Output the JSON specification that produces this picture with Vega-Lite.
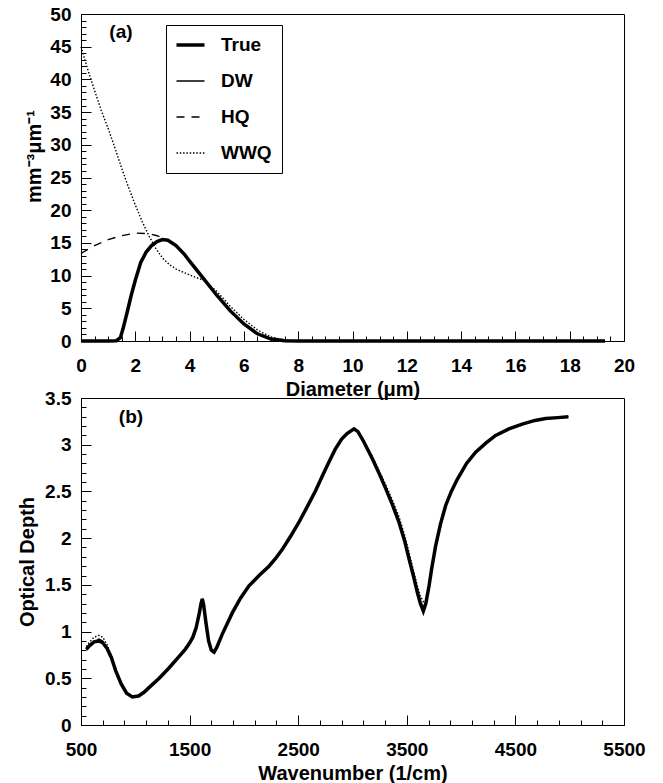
{
  "$schema": "https://vega.github.io/schema/vega-lite/v6.json",
  "padding": {"left": 17, "top": 4, "right": 5, "bottom": 5},
  "spacing": 57,
  "bounds": "flush",
  "datasets": {
    "a": [
      {"s":"True","x":0,"y":0},{"s":"True","x":1,"y":0},{"s":"True","x":1.3,"y":0.05},{"s":"True","x":1.45,"y":0.5},{"s":"True","x":1.55,"y":1.9},{"s":"True","x":1.7,"y":4.4},{"s":"True","x":1.85,"y":7.0},{"s":"True","x":2.0,"y":9.3},{"s":"True","x":2.2,"y":12.0},{"s":"True","x":2.4,"y":13.6},{"s":"True","x":2.6,"y":14.6},{"s":"True","x":2.8,"y":15.2},{"s":"True","x":3.0,"y":15.5},{"s":"True","x":3.2,"y":15.4},{"s":"True","x":3.5,"y":14.6},{"s":"True","x":3.8,"y":13.3},{"s":"True","x":4.0,"y":12.2},{"s":"True","x":4.5,"y":9.6},{"s":"True","x":5.0,"y":7.0},{"s":"True","x":5.5,"y":4.6},{"s":"True","x":6.0,"y":2.6},{"s":"True","x":6.5,"y":1.1},{"s":"True","x":7.0,"y":0.3},{"s":"True","x":7.5,"y":0.05},{"s":"True","x":8,"y":0},{"s":"True","x":19.3,"y":0},
      {"s":"DW","x":0,"y":0},{"s":"DW","x":1,"y":0},{"s":"DW","x":1.3,"y":0.05},{"s":"DW","x":1.45,"y":0.5},{"s":"DW","x":1.55,"y":1.9},{"s":"DW","x":1.7,"y":4.4},{"s":"DW","x":1.85,"y":7.0},{"s":"DW","x":2.0,"y":9.3},{"s":"DW","x":2.2,"y":12.0},{"s":"DW","x":2.4,"y":13.6},{"s":"DW","x":2.6,"y":14.6},{"s":"DW","x":2.8,"y":15.2},{"s":"DW","x":3.0,"y":15.5},{"s":"DW","x":3.2,"y":15.4},{"s":"DW","x":3.5,"y":14.6},{"s":"DW","x":3.8,"y":13.3},{"s":"DW","x":4.0,"y":12.2},{"s":"DW","x":4.5,"y":9.6},{"s":"DW","x":5.0,"y":7.0},{"s":"DW","x":5.5,"y":4.6},{"s":"DW","x":6.0,"y":2.6},{"s":"DW","x":6.5,"y":1.1},{"s":"DW","x":7.0,"y":0.3},{"s":"DW","x":7.5,"y":0.05},{"s":"DW","x":8,"y":0},{"s":"DW","x":19.3,"y":0},
      {"s":"HQ","x":0,"y":13.4},{"s":"HQ","x":0.5,"y":14.6},{"s":"HQ","x":1,"y":15.5},{"s":"HQ","x":1.5,"y":16.1},{"s":"HQ","x":2,"y":16.5},{"s":"HQ","x":2.5,"y":16.4},{"s":"HQ","x":2.8,"y":16.1},{"s":"HQ","x":3.1,"y":15.6},{"s":"HQ","x":3.3,"y":15.2},{"s":"HQ","x":3.5,"y":14.6},{"s":"HQ","x":4.0,"y":12.2},{"s":"HQ","x":4.5,"y":9.6},{"s":"HQ","x":5.0,"y":7.0},{"s":"HQ","x":5.5,"y":4.6},{"s":"HQ","x":6.0,"y":2.6},{"s":"HQ","x":6.5,"y":1.1},{"s":"HQ","x":7.0,"y":0.3},{"s":"HQ","x":7.5,"y":0.05},{"s":"HQ","x":8,"y":0},{"s":"HQ","x":19.3,"y":0},
      {"s":"WWQ","x":0,"y":45},{"s":"WWQ","x":0.25,"y":41.5},{"s":"WWQ","x":0.5,"y":38.3},{"s":"WWQ","x":0.75,"y":35.2},{"s":"WWQ","x":1,"y":32.5},{"s":"WWQ","x":1.25,"y":29.5},{"s":"WWQ","x":1.5,"y":26.4},{"s":"WWQ","x":1.75,"y":23.5},{"s":"WWQ","x":2,"y":20.8},{"s":"WWQ","x":2.25,"y":18.3},{"s":"WWQ","x":2.5,"y":16.1},{"s":"WWQ","x":2.75,"y":14.2},{"s":"WWQ","x":3,"y":12.7},{"s":"WWQ","x":3.25,"y":11.7},{"s":"WWQ","x":3.5,"y":11.0},{"s":"WWQ","x":4,"y":10.1},{"s":"WWQ","x":4.5,"y":9.3},{"s":"WWQ","x":5,"y":7.6},{"s":"WWQ","x":5.5,"y":5.3},{"s":"WWQ","x":6,"y":3.3},{"s":"WWQ","x":6.5,"y":1.7},{"s":"WWQ","x":7,"y":0.6},{"s":"WWQ","x":7.5,"y":0.15},{"s":"WWQ","x":8,"y":0},{"s":"WWQ","x":19.3,"y":0}
    ],
    "b": [
      {"s":"True","x":549,"y":0.81},{"s":"True","x":580,"y":0.85},{"s":"True","x":620,"y":0.89},{"s":"True","x":666,"y":0.9},{"s":"True","x":700,"y":0.88},{"s":"True","x":740,"y":0.82},{"s":"True","x":780,"y":0.72},{"s":"True","x":820,"y":0.58},{"s":"True","x":870,"y":0.44},{"s":"True","x":920,"y":0.34},{"s":"True","x":973,"y":0.3},{"s":"True","x":1030,"y":0.31},{"s":"True","x":1080,"y":0.35},{"s":"True","x":1126,"y":0.4},{"s":"True","x":1220,"y":0.5},{"s":"True","x":1310,"y":0.61},{"s":"True","x":1400,"y":0.73},{"s":"True","x":1460,"y":0.81},{"s":"True","x":1501,"y":0.88},{"s":"True","x":1530,"y":0.94},{"s":"True","x":1560,"y":1.04},{"s":"True","x":1590,"y":1.2},{"s":"True","x":1605,"y":1.3},{"s":"True","x":1617,"y":1.35},{"s":"True","x":1630,"y":1.28},{"s":"True","x":1650,"y":1.1},{"s":"True","x":1675,"y":0.9},{"s":"True","x":1700,"y":0.8},{"s":"True","x":1725,"y":0.78},{"s":"True","x":1750,"y":0.83},{"s":"True","x":1800,"y":0.97},{"s":"True","x":1893,"y":1.2},{"s":"True","x":1970,"y":1.36},{"s":"True","x":2047,"y":1.49},{"s":"True","x":2140,"y":1.6},{"s":"True","x":2231,"y":1.7},{"s":"True","x":2290,"y":1.78},{"s":"True","x":2354,"y":1.88},{"s":"True","x":2430,"y":2.02},{"s":"True","x":2507,"y":2.17},{"s":"True","x":2580,"y":2.33},{"s":"True","x":2661,"y":2.51},{"s":"True","x":2720,"y":2.66},{"s":"True","x":2781,"y":2.81},{"s":"True","x":2840,"y":2.95},{"s":"True","x":2900,"y":3.06},{"s":"True","x":2950,"y":3.12},{"s":"True","x":3014,"y":3.17},{"s":"True","x":3050,"y":3.14},{"s":"True","x":3100,"y":3.04},{"s":"True","x":3183,"y":2.85},{"s":"True","x":3250,"y":2.68},{"s":"True","x":3306,"y":2.53},{"s":"True","x":3370,"y":2.35},{"s":"True","x":3428,"y":2.17},{"s":"True","x":3480,"y":1.97},{"s":"True","x":3520,"y":1.78},{"s":"True","x":3560,"y":1.6},{"s":"True","x":3597,"y":1.42},{"s":"True","x":3625,"y":1.3},{"s":"True","x":3652,"y":1.22},{"s":"True","x":3675,"y":1.3},{"s":"True","x":3705,"y":1.49},{"s":"True","x":3730,"y":1.68},{"s":"True","x":3766,"y":1.92},{"s":"True","x":3810,"y":2.15},{"s":"True","x":3858,"y":2.35},{"s":"True","x":3910,"y":2.5},{"s":"True","x":3965,"y":2.63},{"s":"True","x":4050,"y":2.8},{"s":"True","x":4134,"y":2.92},{"s":"True","x":4230,"y":3.02},{"s":"True","x":4318,"y":3.1},{"s":"True","x":4440,"y":3.17},{"s":"True","x":4563,"y":3.22},{"s":"True","x":4680,"y":3.26},{"s":"True","x":4779,"y":3.28},{"s":"True","x":4890,"y":3.29},{"s":"True","x":4988,"y":3.3},
      {"s":"HQ","x":549,"y":0.81},{"s":"HQ","x":580,"y":0.86},{"s":"HQ","x":620,"y":0.9},{"s":"HQ","x":666,"y":0.92},{"s":"HQ","x":700,"y":0.9},{"s":"HQ","x":740,"y":0.83},{"s":"HQ","x":780,"y":0.72},{"s":"HQ","x":820,"y":0.58},{"s":"HQ","x":870,"y":0.44},{"s":"HQ","x":920,"y":0.34},{"s":"HQ","x":973,"y":0.3},{"s":"HQ","x":1030,"y":0.31},{"s":"HQ","x":1080,"y":0.35},{"s":"HQ","x":1126,"y":0.4},{"s":"HQ","x":1220,"y":0.5},{"s":"HQ","x":1310,"y":0.61},{"s":"HQ","x":1400,"y":0.73},{"s":"HQ","x":1460,"y":0.81},{"s":"HQ","x":1501,"y":0.88},{"s":"HQ","x":1530,"y":0.94},{"s":"HQ","x":1560,"y":1.04},{"s":"HQ","x":1590,"y":1.2},{"s":"HQ","x":1605,"y":1.3},{"s":"HQ","x":1617,"y":1.34},{"s":"HQ","x":1630,"y":1.28},{"s":"HQ","x":1650,"y":1.1},{"s":"HQ","x":1675,"y":0.9},{"s":"HQ","x":1700,"y":0.8},{"s":"HQ","x":1725,"y":0.78},{"s":"HQ","x":1750,"y":0.83},{"s":"HQ","x":1800,"y":0.97},{"s":"HQ","x":1893,"y":1.2},{"s":"HQ","x":1970,"y":1.36},{"s":"HQ","x":2047,"y":1.49},{"s":"HQ","x":2140,"y":1.6},{"s":"HQ","x":2231,"y":1.7},{"s":"HQ","x":2290,"y":1.78},{"s":"HQ","x":2354,"y":1.88},{"s":"HQ","x":2430,"y":2.02},{"s":"HQ","x":2507,"y":2.17},{"s":"HQ","x":2580,"y":2.33},{"s":"HQ","x":2661,"y":2.51},{"s":"HQ","x":2720,"y":2.66},{"s":"HQ","x":2781,"y":2.81},{"s":"HQ","x":2840,"y":2.95},{"s":"HQ","x":2900,"y":3.06},{"s":"HQ","x":2950,"y":3.12},{"s":"HQ","x":3014,"y":3.17},{"s":"HQ","x":3050,"y":3.14},{"s":"HQ","x":3100,"y":3.04},{"s":"HQ","x":3183,"y":2.86},{"s":"HQ","x":3250,"y":2.69},{"s":"HQ","x":3306,"y":2.54},{"s":"HQ","x":3370,"y":2.36},{"s":"HQ","x":3428,"y":2.18},{"s":"HQ","x":3480,"y":1.98},{"s":"HQ","x":3520,"y":1.8},{"s":"HQ","x":3560,"y":1.62},{"s":"HQ","x":3597,"y":1.44},{"s":"HQ","x":3625,"y":1.33},{"s":"HQ","x":3652,"y":1.26},{"s":"HQ","x":3675,"y":1.31},{"s":"HQ","x":3705,"y":1.49},{"s":"HQ","x":3730,"y":1.68},{"s":"HQ","x":3766,"y":1.92},{"s":"HQ","x":3810,"y":2.15},{"s":"HQ","x":3858,"y":2.35},{"s":"HQ","x":3910,"y":2.5},{"s":"HQ","x":3965,"y":2.63},{"s":"HQ","x":4050,"y":2.8},{"s":"HQ","x":4134,"y":2.92},{"s":"HQ","x":4230,"y":3.02},{"s":"HQ","x":4318,"y":3.1},{"s":"HQ","x":4440,"y":3.17},{"s":"HQ","x":4563,"y":3.22},{"s":"HQ","x":4680,"y":3.26},{"s":"HQ","x":4779,"y":3.28},{"s":"HQ","x":4890,"y":3.29},{"s":"HQ","x":4988,"y":3.3},
      {"s":"WWQ","x":549,"y":0.84},{"s":"WWQ","x":580,"y":0.89},{"s":"WWQ","x":620,"y":0.94},{"s":"WWQ","x":666,"y":0.96},{"s":"WWQ","x":700,"y":0.94},{"s":"WWQ","x":740,"y":0.86},{"s":"WWQ","x":780,"y":0.74},{"s":"WWQ","x":820,"y":0.59},{"s":"WWQ","x":870,"y":0.45},{"s":"WWQ","x":920,"y":0.34},{"s":"WWQ","x":973,"y":0.3},{"s":"WWQ","x":1030,"y":0.31},{"s":"WWQ","x":1080,"y":0.35},{"s":"WWQ","x":1126,"y":0.4},{"s":"WWQ","x":1220,"y":0.5},{"s":"WWQ","x":1310,"y":0.61},{"s":"WWQ","x":1400,"y":0.73},{"s":"WWQ","x":1460,"y":0.81},{"s":"WWQ","x":1501,"y":0.88},{"s":"WWQ","x":1530,"y":0.94},{"s":"WWQ","x":1560,"y":1.04},{"s":"WWQ","x":1590,"y":1.19},{"s":"WWQ","x":1605,"y":1.28},{"s":"WWQ","x":1617,"y":1.33},{"s":"WWQ","x":1630,"y":1.27},{"s":"WWQ","x":1650,"y":1.1},{"s":"WWQ","x":1675,"y":0.91},{"s":"WWQ","x":1700,"y":0.81},{"s":"WWQ","x":1725,"y":0.79},{"s":"WWQ","x":1750,"y":0.83},{"s":"WWQ","x":1800,"y":0.97},{"s":"WWQ","x":1893,"y":1.2},{"s":"WWQ","x":1970,"y":1.36},{"s":"WWQ","x":2047,"y":1.49},{"s":"WWQ","x":2140,"y":1.6},{"s":"WWQ","x":2231,"y":1.7},{"s":"WWQ","x":2290,"y":1.78},{"s":"WWQ","x":2354,"y":1.88},{"s":"WWQ","x":2430,"y":2.02},{"s":"WWQ","x":2507,"y":2.17},{"s":"WWQ","x":2580,"y":2.33},{"s":"WWQ","x":2661,"y":2.51},{"s":"WWQ","x":2720,"y":2.66},{"s":"WWQ","x":2781,"y":2.81},{"s":"WWQ","x":2840,"y":2.95},{"s":"WWQ","x":2900,"y":3.06},{"s":"WWQ","x":2950,"y":3.12},{"s":"WWQ","x":3014,"y":3.17},{"s":"WWQ","x":3050,"y":3.14},{"s":"WWQ","x":3100,"y":3.05},{"s":"WWQ","x":3183,"y":2.87},{"s":"WWQ","x":3250,"y":2.71},{"s":"WWQ","x":3306,"y":2.57},{"s":"WWQ","x":3370,"y":2.4},{"s":"WWQ","x":3428,"y":2.23},{"s":"WWQ","x":3480,"y":2.03},{"s":"WWQ","x":3520,"y":1.85},{"s":"WWQ","x":3560,"y":1.66},{"s":"WWQ","x":3597,"y":1.49},{"s":"WWQ","x":3625,"y":1.38},{"s":"WWQ","x":3652,"y":1.32},{"s":"WWQ","x":3675,"y":1.34},{"s":"WWQ","x":3705,"y":1.5},{"s":"WWQ","x":3730,"y":1.68},{"s":"WWQ","x":3766,"y":1.92},{"s":"WWQ","x":3810,"y":2.15},{"s":"WWQ","x":3858,"y":2.35},{"s":"WWQ","x":3910,"y":2.5},{"s":"WWQ","x":3965,"y":2.63},{"s":"WWQ","x":4050,"y":2.8},{"s":"WWQ","x":4134,"y":2.92},{"s":"WWQ","x":4230,"y":3.02},{"s":"WWQ","x":4318,"y":3.1},{"s":"WWQ","x":4440,"y":3.17},{"s":"WWQ","x":4563,"y":3.22},{"s":"WWQ","x":4680,"y":3.26},{"s":"WWQ","x":4779,"y":3.28},{"s":"WWQ","x":4890,"y":3.29},{"s":"WWQ","x":4988,"y":3.3}
    ],
    "labA": [{"t":"(a)","x":1.47,"y":47.2}],
    "labB": [{"t":"(b)","x":960,"y":3.3}]
  },
  "vconcat": [
    {
      "width": 543,
      "height": 327,
      "resolve": {"axis": {"x": "independent", "y": "independent"}},
      "layer": [
        {
          "data": {"name": "a"},
          "mark": {"type": "line", "color": "black", "strokeWidth": 1.4},
          "encoding": {
            "x": {"field": "x", "type": "quantitative", "scale": {"domain": [0, 20], "nice": false, "zero": false},
              "axis": {"orient": "bottom", "values": [0,2,4,6,8,10,12,14,16,18,20], "format": "d", "ticks": false, "labelPadding": 15, "grid": true, "gridColor": "#000000", "gridWidth": 1, "gridOpacity": 1, "gridDash": [0, 317, 10, 3000], "title": "Diameter (μm)", "titlePadding": 4, "titleFontSize": 20, "titleFontWeight": "bold"}},
            "y": {"field": "y", "type": "quantitative", "scale": {"domain": [0, 50], "nice": false},
              "axis": {"orient": "left", "values": [0,5,10,15,20,25,30,35,40,45,50], "format": "d", "ticks": false, "labelPadding": 10, "grid": true, "gridColor": "#000000", "gridWidth": 1, "gridOpacity": 1, "gridDash": [10, 3000], "title": "mm⁻³μm⁻¹", "titlePadding": 5, "titleY": 142, "titleFontSize": 20, "titleFontWeight": "bold"}},
            "strokeDash": {"field": "s", "type": "nominal",
              "scale": {"domain": ["True","DW","HQ","WWQ"], "range": [[1,0],[1,0],[8,7],[1.5,1.8]]},
              "legend": {"orient": "none", "legendX": 85, "legendY": 11, "title": null, "symbolType": "stroke", "symbolSize": 784, "symbolStrokeColor": "black", "symbolStrokeWidth": 1.3, "symbolOffset": 5, "labelFontSize": 19, "labelFontWeight": "bold", "labelColor": "black", "labelFont": "Liberation Sans", "strokeColor": "black", "fillColor": "white", "padding": 10, "rowPadding": 16, "labelOffset": 21, "clipHeight": 20,
                "encode": {"symbols": {"update": {"strokeWidth": {"signal": "datum.value === 'True' ? 3.5 : 1.3"}}}}}}
          }
        },
        {
          "data": {"name": "a"},
          "transform": [{"filter": "datum.s === 'True'"}],
          "mark": {"type": "line", "color": "black", "strokeWidth": 3.5},
          "encoding": {
            "x": {"field": "x", "type": "quantitative", "scale": {"domain": [0, 20], "nice": false, "zero": false}, "axis": null},
            "y": {"field": "y", "type": "quantitative", "scale": {"domain": [0, 50], "nice": false}, "axis": null}
          }
        },
        {
          "data": {"name": "a"},
          "mark": {"type": "point", "opacity": 0},
          "encoding": {
            "x": {"field": "x", "type": "quantitative", "scale": {"domain": [0, 20], "nice": false, "zero": false},
              "axis": {"orient": "bottom", "values": [0.5,1,1.5,2.5,3,3.5,4.5,5,5.5,6.5,7,7.5,8.5,9,9.5,10.5,11,11.5,12.5,13,13.5,14.5,15,15.5,16.5,17,17.5,18.5,19,19.5], "labels": false, "domain": false, "ticks": false, "grid": true, "gridColor": "#000000", "gridWidth": 1, "gridOpacity": 1, "gridDash": [0, 322, 5, 3000], "title": null}},
            "y": {"field": "y", "type": "quantitative", "scale": {"domain": [0, 50], "nice": false},
              "axis": {"orient": "left", "values": [1,2,3,4,6,7,8,9,11,12,13,14,16,17,18,19,21,22,23,24,26,27,28,29,31,32,33,34,36,37,38,39,41,42,43,44,46,47,48,49], "labels": false, "domain": false, "ticks": false, "grid": true, "gridColor": "#000000", "gridWidth": 1, "gridOpacity": 1, "gridDash": [5, 3000], "title": null}}
          }
        },
        {
          "data": {"name": "labA"},
          "mark": {"type": "text", "fontSize": 19, "fontWeight": "bold", "font": "Liberation Sans", "color": "black", "align": "center", "baseline": "middle"},
          "encoding": {
            "x": {"field": "x", "type": "quantitative", "axis": null},
            "y": {"field": "y", "type": "quantitative", "axis": null},
            "text": {"field": "t"}
          }
        }
      ]
    },
    {
      "width": 543,
      "height": 327,
      "resolve": {"axis": {"x": "independent", "y": "independent"}},
      "layer": [
        {
          "data": {"name": "b"},
          "transform": [{"filter": "datum.s === 'HQ'"}],
          "mark": {"type": "line", "color": "black", "strokeWidth": 1.3, "strokeDash": [8, 7]},
          "encoding": {
            "x": {"field": "x", "type": "quantitative", "scale": {"domain": [500, 5500], "nice": false, "zero": false},
              "axis": {"orient": "bottom", "values": [500,1500,2500,3500,4500,5500], "format": "d", "ticks": false, "labelPadding": 15, "grid": true, "gridColor": "#000000", "gridWidth": 1, "gridOpacity": 1, "gridDash": [0, 317, 10, 3000], "title": "Wavenumber (1/cm)", "titlePadding": 4, "titleFontSize": 20, "titleFontWeight": "bold"}},
            "y": {"field": "y", "type": "quantitative", "scale": {"domain": [0, 3.5], "nice": false},
              "axis": {"orient": "left", "values": [0,0.5,1,1.5,2,2.5,3,3.5], "format": "~g", "ticks": false, "labelPadding": 10, "grid": true, "gridColor": "#000000", "gridWidth": 1, "gridOpacity": 1, "gridDash": [10, 3000], "title": "Optical Depth", "titlePadding": 7, "titleFontSize": 20, "titleFontWeight": "bold"}}
          }
        },
        {
          "data": {"name": "b"},
          "transform": [{"filter": "datum.s === 'WWQ'"}],
          "mark": {"type": "line", "color": "black", "strokeWidth": 1.4, "strokeDash": [1.5, 1.8]},
          "encoding": {
            "x": {"field": "x", "type": "quantitative", "scale": {"domain": [500, 5500], "nice": false, "zero": false}, "axis": null},
            "y": {"field": "y", "type": "quantitative", "scale": {"domain": [0, 3.5], "nice": false}, "axis": null}
          }
        },
        {
          "data": {"name": "b"},
          "transform": [{"filter": "datum.s === 'True'"}],
          "mark": {"type": "line", "color": "black", "strokeWidth": 3.5},
          "encoding": {
            "x": {"field": "x", "type": "quantitative", "scale": {"domain": [500, 5500], "nice": false, "zero": false}, "axis": null},
            "y": {"field": "y", "type": "quantitative", "scale": {"domain": [0, 3.5], "nice": false}, "axis": null}
          }
        },
        {
          "data": {"name": "b"},
          "mark": {"type": "point", "opacity": 0},
          "encoding": {
            "x": {"field": "x", "type": "quantitative", "scale": {"domain": [500, 5500], "nice": false, "zero": false},
              "axis": {"orient": "bottom", "values": [700,900,1100,1300,1700,1900,2100,2300,2700,2900,3100,3300,3700,3900,4100,4300,4700,4900,5100,5300], "labels": false, "domain": false, "ticks": false, "grid": true, "gridColor": "#000000", "gridWidth": 1, "gridOpacity": 1, "gridDash": [0, 322, 5, 3000], "title": null}},
            "y": {"field": "y", "type": "quantitative", "scale": {"domain": [0, 3.5], "nice": false},
              "axis": {"orient": "left", "values": [0.1,0.2,0.3,0.4,0.6,0.7,0.8,0.9,1.1,1.2,1.3,1.4,1.6,1.7,1.8,1.9,2.1,2.2,2.3,2.4,2.6,2.7,2.8,2.9,3.1,3.2,3.3,3.4], "labels": false, "domain": false, "ticks": false, "grid": true, "gridColor": "#000000", "gridWidth": 1, "gridOpacity": 1, "gridDash": [5, 3000], "title": null}}
          }
        },
        {
          "data": {"name": "labB"},
          "mark": {"type": "text", "fontSize": 19, "fontWeight": "bold", "font": "Liberation Sans", "color": "black", "align": "center", "baseline": "middle"},
          "encoding": {
            "x": {"field": "x", "type": "quantitative", "axis": null},
            "y": {"field": "y", "type": "quantitative", "axis": null},
            "text": {"field": "t"}
          }
        }
      ]
    }
  ],
  "config": {
    "font": "Liberation Sans",
    "view": {"stroke": "black", "strokeWidth": 1},
    "axis": {"domainColor": "black", "labelColor": "black", "titleColor": "black", "labelFontSize": 19, "labelFontWeight": "bold", "labelFlush": false, "labelOverlap": false}
  }
}
